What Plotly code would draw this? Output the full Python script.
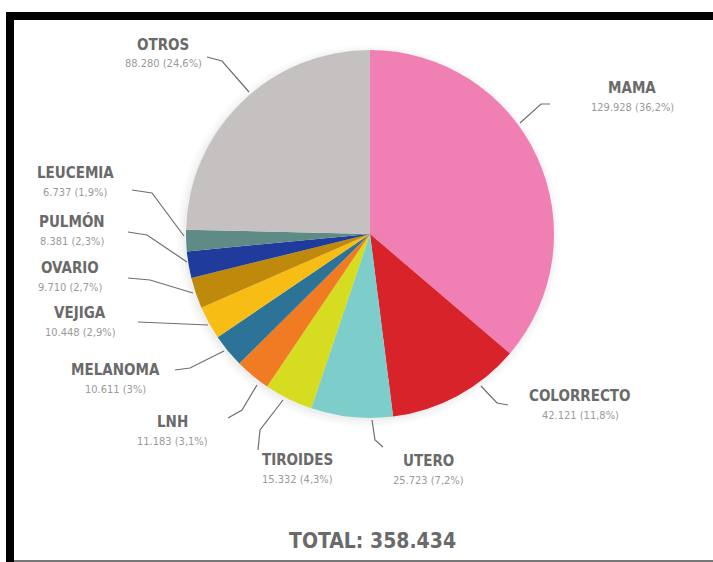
import plotly.graph_objects as go

W, H = 713, 562

# ---- data ----
categories = ["MAMA", "COLORRECTO", "UTERO", "TIROIDES", "LNH", "MELANOMA",
              "VEJIGA", "OVARIO", "PULMÓN", "LEUCEMIA", "OTROS"]
values = [129928, 42121, 25723, 15332, 11183, 10611, 10448, 9710, 8381, 6737, 88280]
pct_labels = ["36,2%", "11,8%", "7,2%", "4,3%", "3,1%", "3%", "2,9%", "2,7%", "2,3%", "1,9%", "24,6%"]
total_label = "TOTAL: 358.434"

# ---- style ----
colors = ["#F07FB3", "#D8232A", "#7DCDCA", "#D6DD20", "#F07B22", "#2C7397",
          "#F8BD14", "#BF8A0C", "#1F3C9C", "#5E8B86", "#C6C1C1"]

# label layout (pixel positions of text centres, and leader polylines)
label_pos = {
    "MAMA": (632, 88), "COLORRECTO": (580, 396), "UTERO": (428, 461),
    "TIROIDES": (297, 460), "LNH": (172, 422), "MELANOMA": (115, 370),
    "VEJIGA": (80, 313), "OVARIO": (70, 268), "PULMÓN": (72, 222),
    "LEUCEMIA": (75, 173), "OTROS": (163, 45),
}
leaders = {
    "MAMA": [(520, 123), (541, 104), (550, 104)],
    "COLORRECTO": [(481, 386), (497, 403), (508, 405)],
    "UTERO": [(372, 420), (375, 440), (383, 447)],
    "TIROIDES": [(283, 400), (260, 430), (258, 450)],
    "LNH": [(257, 385), (242, 410), (228, 418)],
    "MELANOMA": [(224, 351), (190, 368), (175, 370)],
    "VEJIGA": [(208, 325), (138, 322)],
    "OVARIO": [(193, 293), (150, 280), (128, 278)],
    "PULMÓN": [(187, 262), (147, 235), (128, 232)],
    "LEUCEMIA": [(184, 236), (152, 193), (132, 190)],
    "OTROS": [(249, 92), (222, 61), (207, 57)],
}

cx, cy, R = 370, 234, 184

def px(x):
    return x / W

def py(y):
    return 1 - y / H

def fmt_num(v):
    return f"{v:,}".replace(",", ".")

fig = go.Figure()
fig.add_trace(go.Pie(
    labels=categories, values=values, sort=False, direction="clockwise",
    rotation=0, marker=dict(colors=colors, line=dict(width=0)),
    textinfo="none", hoverinfo="label+value+percent", showlegend=False,
    domain=dict(x=[px(cx - R), px(cx + R)], y=[py(cy + R), py(cy - R)]),
))

shapes = []
# soft shadow behind pie
for off, op in [(9, 0.035), (6, 0.05), (3, 0.07)]:
    shapes.append(dict(type="circle", xref="paper", yref="paper", layer="below",
                       x0=px(cx - R - off), x1=px(cx + R + off - 3),
                       y0=py(cy + R + off), y1=py(cy - R - off + 4),
                       fillcolor="#999999", opacity=op, line=dict(width=0)))
# frame
shapes.append(dict(type="rect", xref="paper", yref="paper", x0=px(6), x1=px(W + 5),
                   y0=py(12), y1=py(20), fillcolor="black", line=dict(width=0)))
shapes.append(dict(type="rect", xref="paper", yref="paper", x0=px(6), x1=px(14),
                   y0=py(H + 2), y1=py(12), fillcolor="black", line=dict(width=0)))
shapes.append(dict(type="line", xref="paper", yref="paper", x0=px(14), x1=px(W),
                   y0=py(561), y1=py(561), line=dict(color="#777777", width=2)))
# leader lines
for cat, pts in leaders.items():
    path = "M " + " L ".join(f"{px(x)},{py(y)}" for x, y in pts)
    shapes.append(dict(type="path", xref="paper", yref="paper", path=path,
                       line=dict(color="#6f6f6f", width=1.2)))

name_font = dict(family="Liberation Sans Narrow, DejaVu Sans Condensed, Arial Narrow, sans-serif",
                 size=15, color="#6a6a6a")
val_font = dict(family="Liberation Sans Narrow, DejaVu Sans Condensed, Arial Narrow, sans-serif",
                size=11, color="#9a9a9a")

annotations = []
for cat, v, p in zip(categories, values, pct_labels):
    x, y = label_pos[cat]
    annotations.append(dict(x=px(x), y=py(y), xref="paper", yref="paper",
                            text=f"<b>{cat}</b>", showarrow=False, font=name_font,
                            xanchor="center", yanchor="middle"))
    annotations.append(dict(x=px(x), y=py(y + 19), xref="paper", yref="paper",
                            text=f"{fmt_num(v)} ({p})", showarrow=False, font=val_font,
                            xanchor="center", yanchor="middle"))
annotations.append(dict(x=px(372), y=py(541), xref="paper", yref="paper",
                        text=f"<b>{total_label}</b>", showarrow=False,
                        font=dict(family=name_font["family"], size=21, color="#6a6a6a"),
                        xanchor="center", yanchor="middle"))

fig.update_layout(width=W, height=H, margin=dict(l=0, r=0, t=0, b=0),
                  paper_bgcolor="white", plot_bgcolor="white",
                  shapes=shapes, annotations=annotations)

fig.write_html("out.html")
